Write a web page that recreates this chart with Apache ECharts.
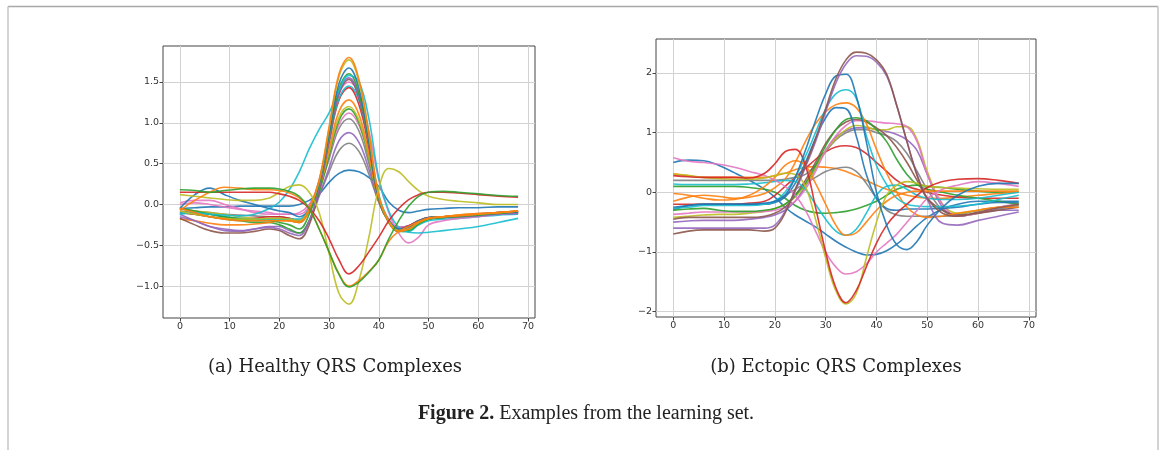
<!DOCTYPE html>
<html>
<head>
<meta charset="utf-8">
<script src="https://cdn.jsdelivr.net/npm/echarts@6/dist/echarts.min.js"></script>
<style>
html,body{margin:0;padding:0;background:#fff;}
#chart{width:1167px;height:450px;}
</style>
</head>
<body>
<div id="chart"></div>
<script>
// ---------------- DATA ----------------
// sample positions (time index of the QRS window)
const xs = [0,3,6,9,12,15,18,20,22,24,26,28,30,32,34,36,38,40,42,44,46,48,50,53,56,60,64,68];

// tick labels
const xTicks = [0,10,20,30,40,50,60,70];
const healthyYTicks = [-1.0,-0.5,0.0,0.5,1.0,1.5];
const ectopicYTicks = [-2,-1,0,1,2];

// captions
const captionA = '(a) Healthy QRS Complexes';
const captionB = '(b) Ectopic QRS Complexes';
const figureLabel = 'Figure 2.';
const figureText = ' Examples from the learning set.';

// (a) healthy complexes
const h01 = [-0.05,-0.10,-0.15,-0.18,-0.20,-0.20,-0.20,-0.20,-0.20,-0.22,-0.05,0.30,0.95,1.60,1.80,1.53,0.87,0.10,-0.22,-0.33,-0.30,-0.22,-0.17,-0.15,-0.14,-0.12,-0.10,-0.08];
const h02 = [-0.08,-0.12,-0.15,-0.17,-0.18,-0.18,-0.17,-0.17,-0.18,-0.20,-0.05,0.28,0.93,1.57,1.77,1.50,0.85,0.10,-0.20,-0.32,-0.30,-0.22,-0.17,-0.15,-0.13,-0.12,-0.10,-0.08];
const h03 = [-0.05,0.12,0.20,0.12,0.05,0.00,-0.05,-0.08,-0.10,-0.15,-0.05,0.28,0.88,1.48,1.67,1.42,0.80,0.08,-0.20,-0.30,-0.28,-0.20,-0.16,-0.15,-0.14,-0.12,-0.10,-0.09];
const h04 = [-0.10,-0.10,-0.12,-0.13,-0.14,-0.12,-0.05,0.03,0.18,0.40,0.68,0.92,1.12,1.40,1.58,1.50,1.05,0.32,-0.08,-0.28,-0.34,-0.35,-0.34,-0.32,-0.30,-0.27,-0.22,-0.17];
const h05 = [-0.05,-0.08,-0.12,-0.15,-0.18,-0.20,-0.20,-0.22,-0.25,-0.30,-0.12,0.25,0.85,1.42,1.60,1.36,0.77,0.08,-0.22,-0.33,-0.32,-0.24,-0.18,-0.16,-0.15,-0.13,-0.11,-0.09];
const h06 = [-0.15,-0.20,-0.27,-0.30,-0.32,-0.30,-0.28,-0.30,-0.35,-0.38,-0.20,0.20,0.80,1.38,1.55,1.32,0.75,0.07,-0.20,-0.30,-0.28,-0.22,-0.17,-0.16,-0.15,-0.14,-0.12,-0.11];
const h07 = [-0.17,-0.25,-0.32,-0.35,-0.35,-0.33,-0.30,-0.32,-0.38,-0.42,-0.25,0.18,0.78,1.36,1.53,1.30,0.73,0.06,-0.20,-0.30,-0.27,-0.21,-0.17,-0.15,-0.14,-0.13,-0.11,-0.10];
const h08 = [0.02,0.05,0.05,0.00,-0.05,-0.10,-0.12,-0.12,-0.12,-0.12,-0.02,0.30,0.85,1.35,1.50,1.35,0.90,0.30,-0.10,-0.35,-0.47,-0.40,-0.25,-0.20,-0.17,-0.15,-0.12,-0.10];
const h09 = [-0.12,-0.10,-0.12,-0.15,-0.17,-0.18,-0.18,-0.18,-0.18,-0.18,-0.05,0.25,0.78,1.30,1.45,1.28,0.75,0.12,-0.20,-0.32,-0.33,-0.25,-0.20,-0.18,-0.17,-0.15,-0.13,-0.12];
const h10 = [-0.10,-0.12,-0.15,-0.17,-0.18,-0.17,-0.15,-0.15,-0.17,-0.20,-0.05,0.25,0.77,1.28,1.43,1.22,0.70,0.06,-0.20,-0.30,-0.26,-0.20,-0.16,-0.15,-0.14,-0.12,-0.10,-0.08];
const h11 = [-0.18,-0.20,-0.23,-0.25,-0.25,-0.24,-0.22,-0.20,-0.20,-0.22,-0.08,0.20,0.68,1.14,1.28,1.10,0.62,0.05,-0.20,-0.30,-0.28,-0.22,-0.17,-0.15,-0.13,-0.11,-0.10,-0.08];
const h12 = [-0.05,-0.08,-0.10,-0.12,-0.15,-0.17,-0.18,-0.18,-0.20,-0.22,-0.07,0.20,0.64,1.07,1.20,1.03,0.58,0.05,-0.20,-0.30,-0.28,-0.22,-0.18,-0.16,-0.15,-0.13,-0.11,-0.10];
const h13 = [-0.10,-0.12,-0.15,-0.18,-0.20,-0.22,-0.22,-0.25,-0.30,-0.35,-0.20,0.15,0.60,1.03,1.17,1.00,0.56,0.04,-0.22,-0.33,-0.30,-0.23,-0.18,-0.16,-0.15,-0.13,-0.11,-0.09];
const h14 = [0.00,0.02,0.00,-0.03,-0.06,-0.08,-0.10,-0.12,-0.12,-0.10,0.00,0.22,0.60,0.98,1.12,0.97,0.57,0.08,-0.18,-0.28,-0.27,-0.21,-0.17,-0.15,-0.14,-0.12,-0.10,-0.09];
const h15 = [-0.08,-0.10,-0.12,-0.15,-0.17,-0.18,-0.18,-0.18,-0.20,-0.22,-0.08,0.18,0.56,0.93,1.05,0.90,0.50,0.05,-0.20,-0.30,-0.27,-0.21,-0.17,-0.16,-0.14,-0.12,-0.11,-0.10];
const h16 = [-0.12,-0.20,-0.27,-0.32,-0.33,-0.30,-0.27,-0.27,-0.32,-0.35,-0.20,0.10,0.45,0.78,0.88,0.76,0.43,0.03,-0.20,-0.28,-0.26,-0.20,-0.17,-0.16,-0.15,-0.13,-0.12,-0.11];
const h17 = [-0.05,-0.08,-0.10,-0.12,-0.13,-0.14,-0.15,-0.15,-0.17,-0.20,-0.08,0.12,0.40,0.66,0.75,0.65,0.37,0.03,-0.20,-0.28,-0.26,-0.20,-0.16,-0.15,-0.14,-0.12,-0.11,-0.10];
const h18 = [-0.05,-0.04,-0.03,-0.03,-0.02,-0.02,-0.02,-0.02,-0.02,0.00,0.05,0.13,0.27,0.38,0.42,0.40,0.33,0.22,0.03,-0.07,-0.10,-0.08,-0.06,-0.05,-0.04,-0.04,-0.03,-0.03];
const h19 = [0.15,0.15,0.15,0.15,0.15,0.15,0.15,0.13,0.10,0.05,-0.05,-0.20,-0.42,-0.68,-0.85,-0.75,-0.58,-0.40,-0.20,-0.05,0.06,0.12,0.15,0.15,0.14,0.12,0.10,0.09];
const h20 = [-0.07,0.05,0.15,0.21,0.20,0.18,0.18,0.17,0.14,0.08,-0.05,-0.30,-0.58,-0.85,-1.00,-0.93,-0.82,-0.68,-0.45,-0.33,-0.27,-0.21,-0.17,-0.15,-0.13,-0.11,-0.10,-0.08];
const h21 = [0.18,0.17,0.15,0.17,0.19,0.20,0.20,0.19,0.16,0.10,-0.05,-0.30,-0.58,-0.86,-1.01,-0.95,-0.83,-0.68,-0.42,-0.20,-0.02,0.10,0.15,0.16,0.15,0.13,0.11,0.10];
const h22 = [0.12,0.10,0.08,0.06,0.05,0.05,0.08,0.15,0.22,0.24,0.15,-0.10,-0.60,-1.09,-1.22,-0.93,-0.40,0.20,0.44,0.40,0.28,0.17,0.10,0.06,0.04,0.02,0.00,0.00];

// (b) ectopic complexes
const e01 = [-0.70,-0.65,-0.63,-0.63,-0.63,-0.63,-0.65,-0.60,-0.35,0.05,0.45,0.90,1.40,1.90,2.22,2.35,2.33,2.22,1.98,1.45,0.85,0.28,-0.10,-0.35,-0.40,-0.33,-0.26,-0.20];
const e02 = [-0.60,-0.60,-0.60,-0.60,-0.60,-0.60,-0.60,-0.55,-0.32,0.02,0.42,0.85,1.35,1.83,2.15,2.29,2.28,2.18,1.95,1.45,0.85,0.30,-0.12,-0.52,-0.55,-0.47,-0.40,-0.33];
const e03 = [-0.25,-0.22,-0.20,-0.20,-0.20,-0.20,-0.18,-0.15,-0.05,0.25,0.70,1.20,1.65,1.95,1.98,1.62,0.85,0.00,-0.55,-0.88,-0.96,-0.82,-0.55,-0.25,-0.05,0.10,0.15,0.15];
const e04 = [-0.27,-0.25,-0.22,-0.22,-0.22,-0.22,-0.20,-0.15,0.00,0.25,0.60,1.00,1.40,1.65,1.72,1.58,0.95,0.45,0.13,-0.10,-0.20,-0.23,-0.24,-0.24,-0.23,-0.20,-0.12,-0.05];
const e05 = [-0.15,-0.08,-0.05,-0.07,-0.10,-0.08,-0.02,0.08,0.22,0.50,0.85,1.15,1.35,1.47,1.50,1.42,1.15,0.72,0.32,0.00,-0.25,-0.38,-0.42,-0.40,-0.35,-0.30,-0.25,-0.25];
const e06 = [-0.28,-0.22,-0.20,-0.20,-0.20,-0.20,-0.20,-0.17,-0.08,0.15,0.50,0.90,1.25,1.42,1.40,0.95,0.30,-0.10,-0.27,-0.30,-0.28,-0.28,-0.28,-0.27,-0.25,-0.20,-0.17,-0.17];
const e07 = [-0.30,-0.28,-0.27,-0.30,-0.32,-0.32,-0.30,-0.27,-0.20,-0.05,0.15,0.45,0.78,1.05,1.22,1.25,1.20,1.05,0.85,0.55,0.30,0.13,0.05,0.00,-0.05,-0.10,-0.15,-0.20];
const e08 = [-0.45,-0.42,-0.42,-0.42,-0.42,-0.42,-0.40,-0.35,-0.25,-0.05,0.20,0.50,0.82,1.05,1.18,1.22,1.18,1.08,0.95,0.75,0.50,0.20,-0.10,-0.30,-0.38,-0.35,-0.30,-0.25];
const e09 = [-0.37,-0.35,-0.33,-0.33,-0.33,-0.33,-0.32,-0.30,-0.25,-0.15,0.05,0.35,0.70,0.95,1.12,1.20,1.20,1.18,1.16,1.15,1.10,0.85,0.30,-0.20,-0.40,-0.35,-0.25,-0.20];
const e10 = [-0.42,-0.40,-0.38,-0.37,-0.37,-0.35,-0.32,-0.27,-0.20,-0.08,0.12,0.40,0.70,0.90,1.05,1.12,1.10,1.05,1.05,1.10,1.10,0.88,0.35,-0.20,-0.35,-0.30,-0.25,-0.20];
const e11 = [0.20,0.20,0.20,0.20,0.20,0.20,0.20,0.20,0.22,0.25,0.30,0.45,0.68,0.88,1.00,1.05,1.05,1.00,0.95,0.85,0.65,0.35,0.05,-0.30,-0.40,-0.35,-0.28,-0.22];
const e12 = [-0.50,-0.48,-0.47,-0.47,-0.47,-0.45,-0.42,-0.38,-0.30,-0.15,0.10,0.40,0.70,0.92,1.03,1.08,1.08,1.05,1.02,0.97,0.88,0.70,0.30,-0.25,-0.40,-0.35,-0.30,-0.30];
const e13 = [-0.20,-0.20,-0.20,-0.20,-0.20,-0.18,-0.15,-0.05,0.10,0.25,0.40,0.55,0.68,0.76,0.78,0.75,0.65,0.50,0.35,0.20,0.10,0.05,0.00,-0.05,-0.08,-0.10,-0.10,-0.10];
const e14 = [-0.30,-0.22,-0.20,-0.20,-0.20,-0.20,-0.20,-0.15,-0.05,0.05,0.15,0.25,0.35,0.40,0.42,0.35,0.15,-0.10,-0.30,-0.38,-0.40,-0.40,-0.40,-0.40,-0.38,-0.30,-0.25,-0.20];
const e15 = [0.31,0.28,0.25,0.25,0.25,0.25,0.25,0.28,0.32,0.38,0.42,0.43,0.42,0.40,0.35,0.28,0.20,0.12,0.05,0.00,-0.05,-0.08,-0.10,-0.10,-0.08,-0.05,-0.02,0.00];
const e16 = [0.10,0.10,0.10,0.10,0.10,0.08,0.05,0.00,-0.10,-0.22,-0.30,-0.34,-0.35,-0.34,-0.32,-0.28,-0.22,-0.15,-0.05,0.05,0.10,0.12,0.10,0.08,0.05,0.02,0.00,0.00];
const e17 = [0.50,0.54,0.53,0.45,0.33,0.20,0.05,-0.08,-0.25,-0.38,-0.48,-0.58,-0.70,-0.82,-0.92,-1.00,-1.05,-1.04,-0.98,-0.87,-0.72,-0.56,-0.42,-0.28,-0.20,-0.15,-0.15,-0.15];
const e18 = [0.14,0.13,0.13,0.13,0.13,0.14,0.16,0.18,0.20,0.18,0.05,-0.20,-0.45,-0.65,-0.72,-0.62,-0.35,-0.05,0.10,0.12,0.05,-0.05,-0.10,-0.12,-0.12,-0.10,-0.05,0.00];
const e19 = [-0.02,-0.05,-0.10,-0.13,-0.12,-0.05,0.10,0.25,0.45,0.53,0.45,0.15,-0.20,-0.55,-0.72,-0.68,-0.50,-0.30,-0.15,-0.05,0.00,0.02,0.02,0.02,0.02,0.02,0.02,0.02];
const e20 = [0.28,0.26,0.25,0.25,0.25,0.24,0.32,0.48,0.68,0.72,0.45,-0.25,-1.00,-1.60,-1.85,-1.65,-1.25,-0.85,-0.55,-0.35,-0.20,-0.05,0.08,0.18,0.22,0.23,0.20,0.15];
const e21 = [0.30,0.28,0.25,0.23,0.22,0.22,0.24,0.28,0.32,0.30,0.10,-0.45,-1.10,-1.65,-1.87,-1.70,-1.10,-0.50,-0.05,0.12,0.18,0.15,0.10,0.08,0.07,0.06,0.05,0.05];
const e22 = [0.58,0.52,0.50,0.47,0.42,0.35,0.28,0.20,0.10,-0.05,-0.30,-0.65,-1.00,-1.25,-1.37,-1.33,-1.20,-1.00,-0.85,-0.70,-0.50,-0.30,-0.10,0.05,0.12,0.18,0.15,0.10];

// ---------------- STYLE ----------------
const C = {blue:'#1f77b4',orange:'#ff7f0e',green:'#2ca02c',red:'#d62728',purple:'#9467bd',
           brown:'#8c564b',pink:'#e377c2',gray:'#7f7f7f',olive:'#bcbd22',cyan:'#17becf'};
const healthySet = [
  [h18,C.blue],[h17,C.gray],[h16,C.purple],[h15,C.gray],[h14,C.pink],[h13,C.green],[h12,C.olive],
  [h11,C.orange],[h10,C.red],[h09,C.cyan],[h08,C.pink],[h07,C.brown],[h06,C.purple],[h05,C.green],
  [h04,C.cyan],[h03,C.blue],[h02,C.olive],[h01,C.orange],
  [h22,C.olive],[h19,C.red],[h20,C.orange],[h21,C.green]
];
const ectopicSet = [
  [e17,C.blue],[e16,C.green],[e15,C.orange],[e14,C.gray],[e13,C.red],[e12,C.purple],[e11,C.gray],
  [e10,C.olive],[e09,C.pink],[e08,C.brown],[e07,C.green],[e06,C.blue],[e05,C.orange],[e04,C.cyan],
  [e18,C.cyan],[e19,C.orange],[e22,C.pink],[e21,C.olive],[e20,C.red],
  [e03,C.blue],[e02,C.purple],[e01,C.brown]
];

const minus = s => s.replace('-', '\u2212');
const labelStyle = {fontFamily:'DejaVu Sans', fontSize:9.5, color:'#333'};

function xAxisFor(gi){
  return {
    type:'value', gridIndex:gi, min:-3.4, max:71.4, position:'bottom',
    axisLine:{show:false, onZero:false},
    axisTick:{show:true, length:3.5, lineStyle:{color:'#444'}, customValues:xTicks},
    axisLabel:Object.assign({margin:4, customValues:xTicks, formatter:v=>minus(String(v))}, labelStyle),
    splitLine:{show:true, lineStyle:{color:'#d2d2d2', width:1}}
  };
}
function yAxisFor(gi, min, max, ticks, dec){
  return {
    type:'value', gridIndex:gi, min:min, max:max, splitNumber:5, position:'left',
    axisLine:{show:false, onZero:false},
    axisTick:{show:true, length:3.5, lineStyle:{color:'#444'}, customValues:ticks},
    axisLabel:Object.assign({margin:4, customValues:ticks, formatter:v=>minus(Number(v).toFixed(dec))}, labelStyle),
    splitLine:{show:true, lineStyle:{color:'#d2d2d2', width:1}}
  };
}

const series = [];
healthySet.forEach(([ys,col])=>{
  series.push({type:'line', xAxisIndex:0, yAxisIndex:0, data:xs.map((x,i)=>[x,ys[i]]),
    showSymbol:false, symbol:'none', smooth:0.4, lineStyle:{width:1.6, color:col, opacity:0.9}, itemStyle:{color:col},
    silent:true, animation:false});
});
ectopicSet.forEach(([ys,col])=>{
  series.push({type:'line', xAxisIndex:1, yAxisIndex:1, data:xs.map((x,i)=>[x,ys[i]]),
    showSymbol:false, symbol:'none', smooth:0.4, lineStyle:{width:1.6, color:col, opacity:0.9}, itemStyle:{color:col},
    silent:true, animation:false});
});

const chart = echarts.init(document.getElementById('chart'), null, {renderer:'canvas'});
chart.setOption({
  backgroundColor:'#ffffff',
  animation:false,
  grid:[
    {left:163, top:46, width:372, height:272, show:true, borderColor:'#444', borderWidth:1, backgroundColor:'transparent'},
    {left:656, top:39, width:380, height:278, show:true, borderColor:'#444', borderWidth:1, backgroundColor:'transparent'}
  ],
  xAxis:[xAxisFor(0), xAxisFor(1)],
  yAxis:[yAxisFor(0,-1.39,1.94,healthyYTicks,1), yAxisFor(1,-2.09,2.57,ectopicYTicks,0)],
  series:series,
  graphic:[
    {type:'line', shape:{x1:8, y1:6.5, x2:1158, y2:6.5}, style:{stroke:'#a8a8a8', lineWidth:1.5}, silent:true},
    {type:'line', shape:{x1:8, y1:6.5, x2:8, y2:450}, style:{stroke:'#c4c4c4', lineWidth:1.5}, silent:true},
    {type:'line', shape:{x1:1158, y1:6.5, x2:1158, y2:450}, style:{stroke:'#c4c4c4', lineWidth:1.5}, silent:true},
    {type:'text', x:335, y:367, silent:true,
     style:{text:captionA, font:'18px "DejaVu Serif"', fill:'#222', align:'center', verticalAlign:'middle'}},
    {type:'text', x:836, y:367, silent:true,
     style:{text:captionB, font:'18px "DejaVu Serif"', fill:'#222', align:'center', verticalAlign:'middle'}},
    {type:'text', x:586, y:414, silent:true,
     style:{text:'{b|'+figureLabel+'}{r|'+figureText+'}', align:'center', verticalAlign:'middle',
       rich:{b:{font:'bold 20px "Liberation Serif"', fill:'#222'}, r:{font:'20px "Liberation Serif"', fill:'#222'}}}}
  ]
});
</script>
</body>
</html>
